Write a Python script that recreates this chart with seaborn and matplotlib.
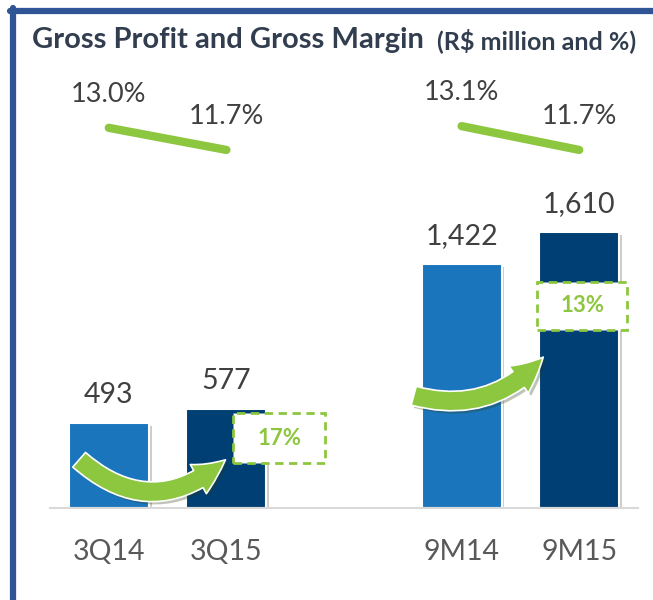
import pandas as pd
import numpy as np
import seaborn as sns
from matplotlib import pyplot as plt
from matplotlib.patches import FancyArrowPatch, Rectangle
from matplotlib.lines import Line2D
import matplotlib.patheffects as pe

"""Данные"""
periods = ['3Q14', '3Q15', '9M14', '9M15']
gross_profit = [493, 577, 1422, 1610]
gross_margin = [13.0, 11.7, 13.1, 11.7]
growth = ['17%', '13%']

order = ['3Q14', '3Q15', '', '9M14', '9M15']
palette = {'3Q14': '#1B75BC', '3Q15': '#003F74', '9M14': '#1B75BC', '9M15': '#003F74'}
green = '#8DC63F'
text_grey = '#404040'

df = pd.DataFrame({'period': periods, 'profit': gross_profit, 'margin': gross_margin})

sns.set_style('white')
plt.rcParams['font.family'] = ['Lato', 'DejaVu Sans']

fig = plt.figure(figsize=(6.53, 6.00), dpi=100)
ax = fig.add_axes([50 / 653, 1 - 508 / 600, 588 / 653, 448 / 600])

sns.barplot(data=df, x='period', y='profit', hue='period', order=order,
            palette=palette, saturation=1, width=0.68, legend=False, ax=ax,
            edgecolor='white', linewidth=1.5)
for p in ax.patches:
    p.set_path_effects([pe.SimplePatchShadow(offset=(2, -2), shadow_rgbFace='#9a9a9a', alpha=0.5),
                        pe.Normal()])

ax.set_xlim(-0.5, 4.5)
ax.set_ylim(0, 2612)
ax.set_xlabel('')
ax.set_ylabel('')
ax.set_yticks([])
ax.tick_params(axis='x', length=0, pad=22, labelsize=20.5, labelcolor='#595959')
for s in ['top', 'right', 'left']:
    ax.spines[s].set_visible(False)
ax.spines['bottom'].set_color('#D9D9D9')
ax.spines['bottom'].set_linewidth(1.5)

xpos = [0, 1, 3, 4]
for x, v in zip(xpos, gross_profit):
    ax.annotate(f'{v:,}', (x, v), xytext=(0, 11), textcoords='offset points',
                ha='center', va='bottom', fontsize=20.5, color=text_grey)

"""Линия маржи"""
ax2 = ax.twinx()
ax2.set_ylim(-9.36, 16.99)
ax2.axis('off')
for i in (0, 2):
    ax2.plot(xpos[i:i + 2], gross_margin[i:i + 2], color=green, lw=6,
             solid_capstyle='round')
    for x, m in zip(xpos[i:i + 2], gross_margin[i:i + 2]):
        ax2.annotate(f'{m:.1f}%', (x, m), xytext=(0, 15), textcoords='offset points',
                     ha='center', va='bottom', fontsize=19.5, color=text_grey)

"""Стрелки роста"""
arrows = [((-0.27, 292), (1.01, 292), 0.45), ((2.57, 659), (3.71, 892), 0.32)]
for tail, head, rad in arrows:
    arr = FancyArrowPatch(tail, head, connectionstyle=f'arc3,rad={rad}',
                          arrowstyle='simple,head_width=24,head_length=24,tail_width=14',
                          fc=green, ec='white', lw=1.2, zorder=5,
                          path_effects=[pe.SimplePatchShadow(offset=(2, -2), alpha=0.3), pe.Normal()])
    ax.add_patch(arr)

boxes = [(1.06, 262, 0.78, 292), (3.64, 1038, 0.77, 280)]
for (bx, by, bw, bh), g in zip(boxes, growth):
    ax.add_patch(Rectangle((bx, by), bw, bh, fc='white', ec=green, lw=2,
                           ls=(0, (3, 2)), zorder=6, clip_on=False))
    ax.text(bx + bw / 2, by + bh / 2, g, ha='center', va='center', fontsize=16,
            fontweight='bold', color=green, zorder=7)

"""Заголовок и рамка"""
fig.text(32 / 653, 1 - 40 / 600, 'Gross Profit and Gross Margin', fontsize=21,
         fontweight='bold', color='#323E4F', va='center')
fig.text(437 / 653, 1 - 41 / 600, '(R$ million and %)', fontsize=18,
         fontweight='bold', color='#323E4F', va='center')
fig.add_artist(Line2D([10 / 653, 1], [1 - 11 / 600] * 2, color='#2F5597', lw=4.5,
                      transform=fig.transFigure))
fig.add_artist(Line2D([13 / 653] * 2, [1 - 8 / 600, 0], color='#2F5597', lw=4.5,
                      transform=fig.transFigure))

plt.savefig('out.png', dpi=100)
